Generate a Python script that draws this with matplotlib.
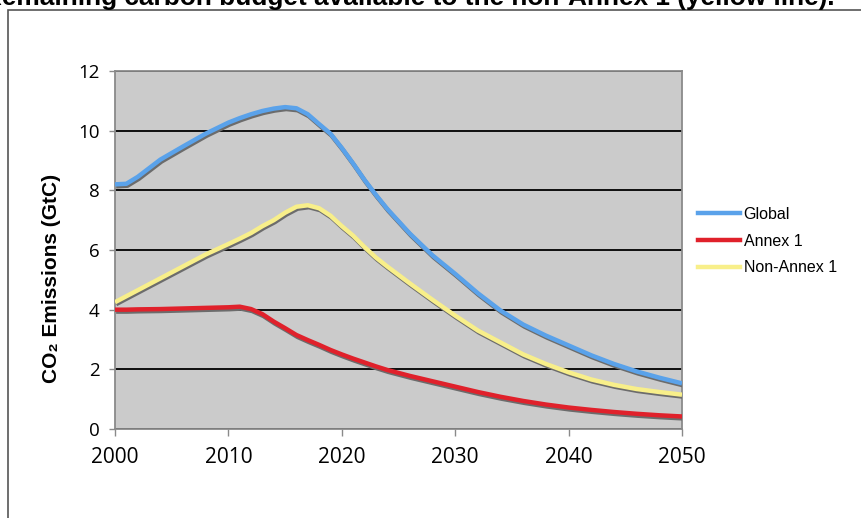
import numpy as np
import matplotlib
matplotlib.use("Agg")
import matplotlib.pyplot as plt
import matplotlib.patheffects as pe
from matplotlib.lines import Line2D
from matplotlib.patches import Rectangle

# emission pathways (GtC per year)
years = [2000, 2001, 2002, 2004, 2006, 2008, 2010, 2011, 2012, 2013, 2014,
         2015, 2016, 2017, 2018, 2019, 2020, 2021, 2022, 2023, 2024, 2026,
         2028, 2030, 2032, 2034, 2036, 2038, 2040, 2042, 2044, 2046, 2048,
         2050]
globl = [8.2, 8.22, 8.45, 9.03, 9.47, 9.9, 10.27, 10.42, 10.55, 10.66, 10.74,
         10.79, 10.75, 10.55, 10.22, 9.9, 9.42, 8.9, 8.35, 7.85, 7.38, 6.55,
         5.82, 5.2, 4.55, 3.97, 3.5, 3.13, 2.8, 2.47, 2.18, 1.93, 1.72, 1.53]
annex1 = [4.0, 4.0, 4.01, 4.02, 4.04, 4.06, 4.08, 4.1, 4.02, 3.85, 3.6,
          3.38, 3.15, 2.98, 2.82, 2.65, 2.5, 2.36, 2.23, 2.1, 1.98, 1.78,
          1.6, 1.42, 1.24, 1.08, 0.94, 0.82, 0.72, 0.64, 0.57, 0.51, 0.46, 0.42]
nonannex1 = [4.25, 4.45, 4.65, 5.05, 5.45, 5.85, 6.2, 6.38, 6.57, 6.8, 7.0,
             7.25, 7.45, 7.5, 7.4, 7.15, 6.8, 6.48, 6.1, 5.75, 5.45, 4.88,
             4.33, 3.8, 3.3, 2.9, 2.5, 2.18, 1.9, 1.66, 1.48, 1.34, 1.24, 1.15]

labels = ["Global", "Annex 1", "Non-Annex 1"]
colors = ["#5aa2ea", "#e0212b", "#f8ef8a"]

W, H = 861, 518
fig = plt.figure(figsize=(W / 100, H / 100), dpi=100)

# outer frame of the chart box
fig.patches.append(Rectangle((8 / W, -0.1), 1.2, 1 - 10 / H + 0.1,
                             transform=fig.transFigure, fill=False,
                             edgecolor="#555555", linewidth=1.2))

ax = fig.add_axes([115 / W, (H - 429) / H, (682 - 115) / W, (429 - 71) / H])
ax.set_facecolor("#cbcbcb")

shadow = [pe.SimpleLineShadow(offset=(0.8, -1.4), shadow_color="#6c6c6c", alpha=1.0),
          pe.Normal()]
for ys, c in zip([globl, annex1, nonannex1], colors):
    ax.plot(years, ys, color=c, lw=3.2, solid_capstyle="butt",
            path_effects=shadow, zorder=3)

ax.set_xlim(2000, 2050)
ax.set_ylim(0, 12)
ax.set_xticks(range(2000, 2051, 10))
ax.set_yticks(range(0, 13, 2))
ax.yaxis.grid(True, color="black", lw=1.3)
ax.set_axisbelow(True)
for s in ax.spines.values():
    s.set_color("#8a8a8a")
    s.set_linewidth(1.3)
ax.tick_params(axis="both", colors="#8a8a8a", width=1.0)
ax.tick_params(axis="x", length=5, pad=8, labelsize=15, labelcolor="black")
ax.tick_params(axis="y", length=4, pad=7, labelsize=13.5, labelcolor="black")
for t in ax.get_xticklabels() + ax.get_yticklabels():
    t.set_family("Open Sans")

fig.text(52 / W, 1 - 278 / H, "CO₂ Emissions (GtC)", rotation=90,
         ha="center", va="center", fontsize=15, weight="bold",
         family=["Liberation Sans", "DejaVu Sans"])

fig.text(835 / W, 1 - 5.5 / H,
         "Remaining carbon budget available to the non-Annex 1 (yellow line).",
         ha="right", va="baseline", fontsize=18.9, weight="bold",
         family="Liberation Sans")

handles = [Line2D([], [], color=c, lw=3.2) for c in colors]
fig.legend(handles, labels, loc="center left",
           bbox_to_anchor=(698 / W, 1 - 241 / H), frameon=False,
           prop={"family": "Liberation Sans", "size": 11.5},
           handlelength=2.6, handletextpad=0.25, labelspacing=0.74,
           borderpad=0, borderaxespad=0)

fig.savefig("out.png", dpi=100)
